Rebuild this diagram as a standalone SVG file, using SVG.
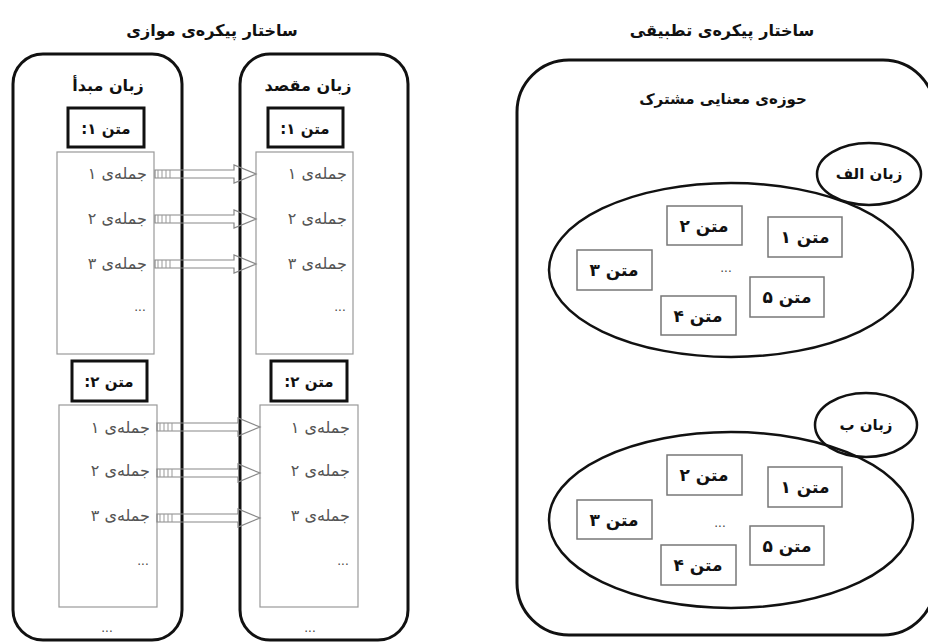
<svg xmlns="http://www.w3.org/2000/svg" width="928" height="643" viewBox="0 0 928 643">
<style>
text{font-family:"DejaVu Sans","Noto Sans",sans-serif;direction:rtl;unicode-bidi:embed}
.t{font-size:16px;font-weight:bold;fill:#111;text-anchor:middle}
.h{font-size:15px;font-weight:bold;fill:#111;text-anchor:middle}
.l{font-size:16px;font-weight:bold;fill:#111;text-anchor:middle}
.s{font-size:16px;fill:#555;text-anchor:start}
.d{font-size:12px;fill:#444;text-anchor:middle}
.b{font-size:17px;font-weight:bold;fill:#111;text-anchor:middle}
.outer{fill:none;stroke:#111;stroke-width:3}
.tbox{fill:#fff;stroke:#111;stroke-width:3}
.sbox{fill:none;stroke:#999;stroke-width:1.2}
.ell{fill:none;stroke:#111;stroke-width:2.5}
.gbox{fill:#fff;stroke:#777;stroke-width:1.5}
.arr{fill:none;stroke:#888;stroke-width:1.2}
.tail{fill:none;stroke:#999;stroke-width:1}
</style>

<text class="t" x="212" y="36">ساختار پیکره‌ی موازی</text>
<text class="t" x="722" y="36">ساختار پیکره‌ی تطبیقی</text>

<g id="source">
<rect class="outer" x="13" y="54" width="169" height="586" rx="30"/>
<text class="l" x="108" y="91">زبان مبدأ</text>
<text class="d" x="107" y="632">...</text>
</g>
<g id="target">
<rect class="outer" x="240" y="54" width="168" height="586" rx="30"/>
<text class="l" x="308" y="91">زبان مقصد</text>
<text class="d" x="310" y="632">...</text>
</g>

<g id="src-text1">
<rect class="tbox" x="68" y="108" width="76" height="39"/>
<text class="h" x="106" y="134">متن ۱:</text>
<rect class="sbox" x="57" y="152" width="97" height="202"/>
<text class="s" x="147" y="179">جمله‌ی ۱</text>
<text class="s" x="147" y="224">جمله‌ی ۲</text>
<text class="s" x="147" y="269">جمله‌ی ۳</text>
<text class="d" x="140" y="311">...</text>
</g>
<g id="tgt-text1">
<rect class="tbox" x="268" y="108" width="75" height="39"/>
<text class="h" x="305" y="134">متن ۱:</text>
<rect class="sbox" x="256" y="152" width="97" height="202"/>
<text class="s" x="347" y="179">جمله‌ی ۱</text>
<text class="s" x="347" y="224">جمله‌ی ۲</text>
<text class="s" x="347" y="269">جمله‌ی ۳</text>
<text class="d" x="340" y="311">...</text>
</g>
<g id="src-text2">
<rect class="tbox" x="72" y="361" width="75" height="40"/>
<text class="h" x="109" y="387">متن ۲:</text>
<rect class="sbox" x="59" y="405" width="98" height="202"/>
<text class="s" x="150" y="433">جمله‌ی ۱</text>
<text class="s" x="150" y="476">جمله‌ی ۲</text>
<text class="s" x="150" y="521">جمله‌ی ۳</text>
<text class="d" x="143" y="565">...</text>
</g>
<g id="tgt-text2">
<rect class="tbox" x="271" y="361" width="76" height="40"/>
<text class="h" x="309" y="387">متن ۲:</text>
<rect class="sbox" x="260" y="405" width="98" height="202"/>
<text class="s" x="350" y="433">جمله‌ی ۱</text>
<text class="s" x="350" y="476">جمله‌ی ۲</text>
<text class="s" x="350" y="521">جمله‌ی ۳</text>
<text class="d" x="343" y="565">...</text>
</g>

<g id="connectors">
<path class="arr" d="M155,170 L234,170 L234,165 L256,174 L234,183 L234,178 L155,178 Z"/>
<path class="tail" d="M158,170 V178 M162,170 V178 M166,170 V178 M170,170 V178"/>
<path class="arr" d="M155,215 L234,215 L234,210 L256,219 L234,228 L234,223 L155,223 Z"/>
<path class="tail" d="M158,215 V223 M162,215 V223 M166,215 V223 M170,215 V223"/>
<path class="arr" d="M155,260 L234,260 L234,255 L256,264 L234,273 L234,268 L155,268 Z"/>
<path class="tail" d="M158,260 V268 M162,260 V268 M166,260 V268 M170,260 V268"/>
<path class="arr" d="M157,423 L238,423 L238,418 L260,427 L238,436 L238,431 L157,431 Z"/>
<path class="tail" d="M160,423 V431 M164,423 V431 M168,423 V431 M172,423 V431"/>
<path class="arr" d="M157,469 L238,469 L238,464 L260,473 L238,482 L238,477 L157,477 Z"/>
<path class="tail" d="M160,469 V477 M164,469 V477 M168,469 V477 M172,469 V477"/>
<path class="arr" d="M157,514 L238,514 L238,509 L260,518 L238,527 L238,522 L157,522 Z"/>
<path class="tail" d="M160,514 V522 M164,514 V522 M168,514 V522 M172,514 V522"/>
</g>

<g id="shared-domain">
<rect class="outer" x="517" y="60" width="418" height="575" rx="52"/>
<text class="h" x="723" y="104">حوزه‌ی معنایی مشترک</text>
</g>

<g id="lang-a">
<ellipse class="ell" cx="731" cy="270" rx="182" ry="87"/>
<ellipse class="ell" cx="869" cy="174" rx="52" ry="31"/>
<text class="h" x="869" y="179">زبان الف</text>
<rect class="gbox" x="667" y="206" width="75" height="39"/><text class="b" x="704" y="232">متن ۲</text>
<rect class="gbox" x="768" y="217" width="74" height="40"/><text class="b" x="805" y="243">متن ۱</text>
<rect class="gbox" x="577" y="250" width="75" height="40"/><text class="b" x="614" y="276">متن ۳</text>
<text class="d" x="726" y="272">...</text>
<rect class="gbox" x="750" y="277" width="74" height="40"/><text class="b" x="787" y="303">متن ۵</text>
<rect class="gbox" x="661" y="296" width="75" height="39"/><text class="b" x="698" y="322">متن ۴</text>
</g>

<g id="lang-b">
<ellipse class="ell" cx="731" cy="520" rx="182" ry="88"/>
<ellipse class="ell" cx="866" cy="425" rx="51" ry="32"/>
<text class="h" x="866" y="430">زبان ب</text>
<rect class="gbox" x="667" y="455" width="75" height="40"/><text class="b" x="704" y="481">متن ۲</text>
<rect class="gbox" x="768" y="467" width="74" height="40"/><text class="b" x="805" y="493">متن ۱</text>
<rect class="gbox" x="577" y="500" width="75" height="39"/><text class="b" x="614" y="526">متن ۳</text>
<text class="d" x="720" y="527">...</text>
<rect class="gbox" x="750" y="526" width="74" height="39"/><text class="b" x="787" y="552">متن ۵</text>
<rect class="gbox" x="661" y="545" width="75" height="40"/><text class="b" x="698" y="571">متن ۴</text>
</g>
</svg>
